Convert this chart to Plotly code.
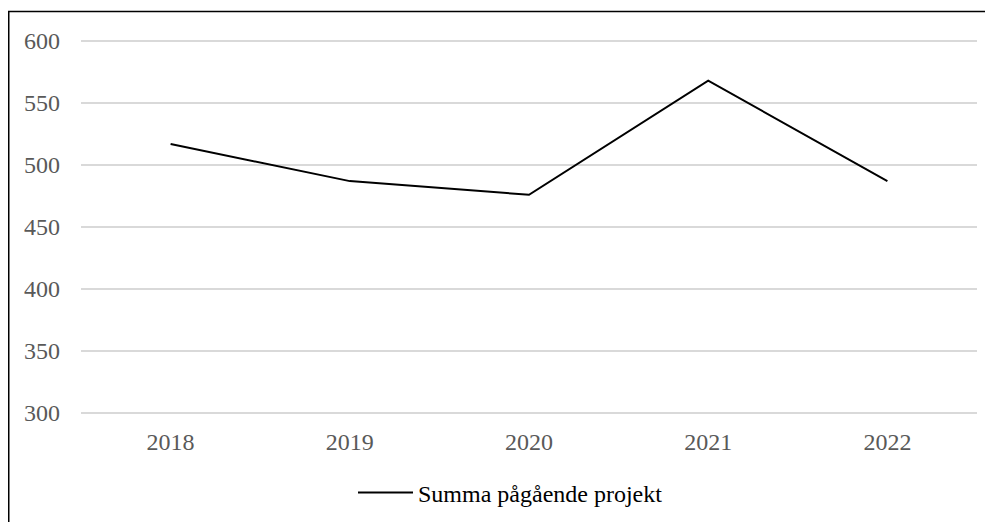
import plotly.graph_objects as go

years = ["2018", "2019", "2020", "2021", "2022"]
summa_pagaende = [517, 487, 476, 568, 487]
series_name = "Summa pågående projekt"
y_ticks = [300, 350, 400, 450, 500, 550, 600]

# page has an 8px body margin, so the figure is drawn 8px smaller
W, H = 985, 514
pad = 2  # px of extra plot area above 600 / below 300 so edge gridlines show
ml, mr, mt, mb = 73, 16, 33 - pad, 109 - pad
pw, ph = W - ml - mr, H - mt - mb
unit_px = (ph - 2 * pad) / 300.0
ypad = pad / unit_px

def px_x(x):
    return (x - ml) / pw

def px_y(y):
    return (H - mb - y) / ph

fig = go.Figure()
fig.add_trace(go.Scatter(
    x=years, y=summa_pagaende, mode="lines", name=series_name,
    line=dict(color="black", width=2),
))

font = "Liberation Serif, Times New Roman, serif"
fig.update_layout(
    width=W, height=H,
    margin=dict(l=ml, r=mr, t=mt, b=mb, autoexpand=False),
    plot_bgcolor="white", paper_bgcolor="white",
    font=dict(family=font, size=24, color="#595959"),
    showlegend=True,
    legend=dict(
        orientation="h", x=px_x(345), xanchor="left",
        y=px_y(485), yanchor="middle",
        font=dict(family=font, size=24, color="black"),
        bgcolor="rgba(0,0,0,0)", itemwidth=55,
    ),
    xaxis=dict(
        type="category", range=[-0.5, 4.5], showgrid=False, zeroline=False,
        showline=False, ticks="", tickfont=dict(size=24, color="#595959"),
        ticklabelstandoff=10,
    ),
    yaxis=dict(
        range=[300 - ypad, 600 + ypad], tickvals=y_ticks, showgrid=True,
        gridcolor="#d9d9d9", gridwidth=1.5, zeroline=False, showline=False,
        ticks="", tickfont=dict(size=24, color="#595959"),
        ticklabelstandoff=20,
    ),
    shapes=[dict(
        type="rect", xref="paper", yref="paper",
        x0=px_x(0.75), x1=px_x(W + 60), y0=px_y(H + 60), y1=px_y(3.5),
        line=dict(color="black", width=1.5), fillcolor="rgba(0,0,0,0)",
        layer="below",
    )],
)

fig.write_html("out.html")
